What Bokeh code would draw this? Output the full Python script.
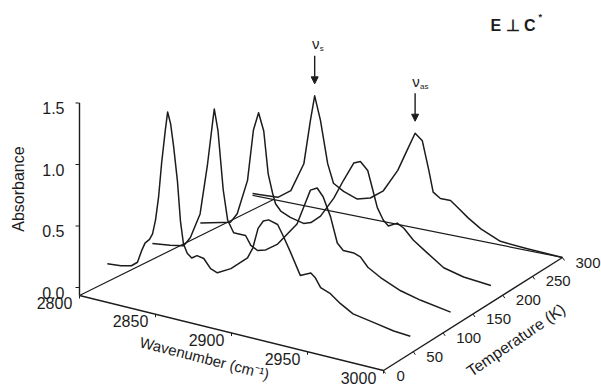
import numpy as np
from bokeh.plotting import figure
from bokeh.models import Range1d, Arrow, NormalHead
from bokeh.core.properties import value
from bokeh.embed import file_html
from bokeh.resources import INLINE

# ---------------- data ----------------
WN_TICKS = [2800, 2850, 2900, 2950, 3000]
T_TICKS = [0, 50, 100, 150, 200, 250, 300]
A_TICKS = [0.0, 0.5, 1.0, 1.5]
A_TICK_LABELS = ["0.0", "0.5", "1.0", "1.5"]

TEMPERATURES = [50, 115, 180, 300]

wn_50 = [2797, 2806, 2813, 2817, 2820, 2822, 2825, 2827, 2829, 2831,
         2833, 2835.5, 2837, 2839, 2841, 2843.5, 2845.5, 2847.5, 2850, 2853,
         2856.5, 2861, 2865.5, 2870, 2879, 2890, 2893.5, 2897, 2900.5, 2904,
         2910, 2914, 2918.5, 2925, 2932, 2935, 2938.5, 2945, 2951.5, 2960,
         2973.5, 2987, 2998]
abs_50 = [0.12, 0.13, 0.15, 0.19, 0.30, 0.36, 0.40, 0.45, 0.57, 0.76,
          1.04, 1.32, 1.47, 1.38, 1.20, 0.93, 0.61, 0.43, 0.36, 0.33,
          0.36, 0.35, 0.28, 0.26, 0.32, 0.44, 0.53, 0.70, 0.77, 0.79,
          0.77, 0.68, 0.57, 0.40, 0.44, 0.41, 0.34, 0.31, 0.25, 0.19,
          0.16, 0.13, 0.12]

wn_115 = [2799, 2811, 2820, 2824.5, 2831, 2836, 2839.5, 2840.5, 2843, 2846.5,
          2849.5, 2853.5, 2857, 2861.5, 2865, 2869.5, 2875, 2883, 2889.5, 2896,
          2900.5, 2905, 2909.5, 2913.5, 2918.5, 2923, 2927, 2934, 2938.5, 2943.5,
          2952, 2965.5, 2979, 2999]
abs_115 = [0.12, 0.14, 0.16, 0.24, 0.45, 0.87, 1.23, 1.33, 1.16, 0.69,
           0.45, 0.36, 0.36, 0.36, 0.29, 0.26, 0.28, 0.35, 0.45, 0.55,
           0.70, 0.85, 0.88, 0.82, 0.67, 0.47, 0.42, 0.42, 0.40, 0.33,
           0.27, 0.20, 0.16, 0.12]

wn_180 = [2803, 2823.5, 2828, 2835, 2839, 2842.5, 2846, 2849, 2852, 2854,
          2857.5, 2864, 2873, 2878, 2884.5, 2893.5, 2900, 2907, 2911.5, 2916.5,
          2919.5, 2923, 2927, 2930.5, 2936.5, 2941, 2947.5, 2957, 2968, 2981.5,
          3000]
abs_180 = [0.13, 0.19, 0.27, 0.56, 0.98, 1.13, 0.99, 0.65, 0.50, 0.42,
           0.37, 0.335, 0.31, 0.33, 0.40, 0.57, 0.73, 0.89, 0.915, 0.855,
           0.725, 0.57, 0.48, 0.44, 0.48, 0.45, 0.37, 0.29, 0.20, 0.16,
           0.14]

wn_300 = [2785.5, 2794.5, 2803, 2812, 2821, 2825.5, 2828.5, 2832.5, 2837.5, 2841.5,
          2848.5, 2858, 2867, 2876, 2886, 2892.5, 2898, 2903, 2907.5, 2910.5,
          2915.5, 2922.5, 2927.5, 2934.5, 2943.5, 2957, 2975, 3000]
abs_300 = [0.015, 0.02, 0.025, 0.10, 0.34, 0.70, 0.91, 0.72, 0.38, 0.23,
           0.18, 0.14, 0.17, 0.25, 0.44, 0.62, 0.77, 0.72, 0.49, 0.32,
           0.28, 0.28, 0.235, 0.17, 0.10, 0.03, 0.015, 0.0]

SPECTRA_WN = [wn_50, wn_115, wn_180, wn_300]
SPECTRA_ABS = [abs_50, abs_115, abs_180, abs_300]

# ---------------- oblique 3-D projection ----------------
W0, W1 = 2800, 3000
T0, T1 = 0, 300
C00 = (79.0, 295.0)    # floor corner (2800, 0)
C10 = (383.0, 370.0)   # floor corner (3000, 0)
C11 = (562.0, 257.0)   # floor corner (3000, 300)
C01 = (273.0, 199.0)   # floor corner (2800, 300)
K = 123.0              # vertical screen units per absorbance unit


def project(w, t, a=0.0):
    w, t, a = np.broadcast_arrays(np.asarray(w, float), np.asarray(t, float),
                                  np.asarray(a, float))
    u = (w - W0) / (W1 - W0)
    v = (t - T0) / (T1 - T0)
    x = ((1 - u) * (1 - v) * C00[0] + u * (1 - v) * C10[0]
         + u * v * C11[0] + (1 - u) * v * C01[0])
    y = ((1 - u) * (1 - v) * C00[1] + u * (1 - v) * C10[1]
         + u * v * C11[1] + (1 - u) * v * C01[1]) - K * a
    return x, y


FONT = value("Liberation Sans")
INK = "#1c1c1c"

p = figure(width=601, height=385, x_range=Range1d(0, 601), y_range=Range1d(385, 0),
           output_backend="svg", toolbar_location=None,
           x_axis_location=None, y_axis_location=None,
           min_border=0, min_border_left=0, min_border_right=0,
           min_border_top=0, min_border_bottom=0)
p.grid.visible = False
p.outline_line_color = None
p.background_fill_color = "white"
p.border_fill_color = "white"

# floor edges
xf, yf = project([W0, W1], T0)
p.line(xf, yf, line_color=INK, line_width=1.4)
xr, yr = project(W1, [T0, T1])
p.line(xr, yr, line_color=INK, line_width=1.4)
xl, yl = project(W0, [T0, T1])
p.line(xl, yl, line_color=INK, line_width=1.2)
xb, yb = project([min(wn_300), W1], T1)
p.line(xb, yb, line_color=INK, line_width=1.2)

# vertical absorbance axis
AX_OFF = 8.0
ox, oy = project(W0, T0)
ax_top = float(oy) - AX_OFF - K * max(A_TICKS)
p.line([float(ox), float(ox)], [float(oy), ax_top], line_color=INK, line_width=1.4)
tick_y = [float(oy) - AX_OFF - K * a for a in A_TICKS]
p.segment(x0=[float(ox)] * len(tick_y), y0=tick_y, x1=[float(ox) - 4] * len(tick_y),
          y1=tick_y, line_color=INK, line_width=1.2)
p.text(x=[float(ox) - 15] * len(tick_y), y=[ty + 5 for ty in tick_y], text=A_TICK_LABELS,
       text_font=FONT, text_font_size="16px", text_align="right",
       text_baseline="middle", text_color=INK)
p.text(x=[18], y=[float(oy) - AX_OFF - K * 0.8], text=["Absorbance"], angle=np.pi / 2,
       text_font=FONT, text_font_size="16px", text_align="center",
       text_baseline="middle", text_color=INK)

# wavenumber ticks & labels
wx, wy = project(WN_TICKS, T0)
p.segment(x0=wx, y0=wy, x1=wx, y1=wy + 3, line_color=INK, line_width=1.0)
p.text(x=wx - 25, y=wy + 7, text=[str(v) for v in WN_TICKS], text_font=FONT,
       text_font_size="16px", text_align="center", text_baseline="middle",
       text_color=INK)
lx, ly = project(2900, T0)
p.text(x=[float(lx) - 27], y=[float(ly) + 25], text=["Wavenumber (cm\u207b\u00b9)"],
       angle=-0.25, text_font=FONT, text_font_size="15px", text_align="center",
       text_baseline="middle", text_color=INK)

# temperature ticks & labels
tx, ty_ = project(W1, T_TICKS)
p.segment(x0=tx, y0=ty_, x1=tx + 2, y1=ty_ + 3, line_color=INK, line_width=1.0)
p.text(x=tx + 13, y=ty_ + 5, text=[str(v) for v in T_TICKS], text_font=FONT,
       text_font_size="15px", text_align="left", text_baseline="middle",
       text_color=INK)
mx, my = project(W1, 150)
p.text(x=[float(mx) + 43], y=[float(my) + 26], text=["Temperature (K)"],
       angle=0.6, text_font=FONT, text_font_size="16px", text_align="center",
       text_baseline="middle", text_color=INK)

# spectra (waterfall)
for T, wn, ab in zip(TEMPERATURES, SPECTRA_WN, SPECTRA_ABS):
    sx, sy = project(wn, T, ab)
    p.line(sx, sy, line_color=INK, line_width=1.5, line_join="round")

# band arrows on the back spectrum
wn_b = np.array(wn_300)
ab_b = np.array(abs_300)
i_s = int(np.argmax(np.where(wn_b < 2870, ab_b, -1)))
i_as = int(np.argmax(np.where(wn_b > 2870, ab_b, -1)))
for idx, sub in [(i_s, "s"), (i_as, "as")]:
    px, py = project(wn_b[idx], T1, ab_b[idx])
    px, py = float(px), float(py)
    p.add_layout(Arrow(end=NormalHead(size=7, fill_color=INK, line_color=INK),
                       x_start=px, y_start=py - 40, x_end=px, y_end=py - 12,
                       line_color=INK, line_width=1.4))
    p.text(x=[px + 1], y=[py - 52], text=["\u03bd"], text_font=FONT,
           text_font_size="15px", text_align="center", text_baseline="middle",
           text_color=INK)
    p.text(x=[px + 5], y=[py - 47], text=[sub], text_font=FONT,
           text_font_size="8px", text_align="left", text_baseline="middle",
           text_color=INK)

# polarisation label
p.text(x=[490], y=[25], text=["E \u22a5 C"], text_font=FONT, text_font_size="16px",
       text_font_style="bold", text_align="left", text_baseline="middle",
       text_color=INK)
p.text(x=[538], y=[16], text=["*"], text_font=FONT, text_font_size="9px",
       text_font_style="bold", text_align="left", text_baseline="middle",
       text_color=INK)

open("out.html", "w").write(file_html(p, INLINE))
